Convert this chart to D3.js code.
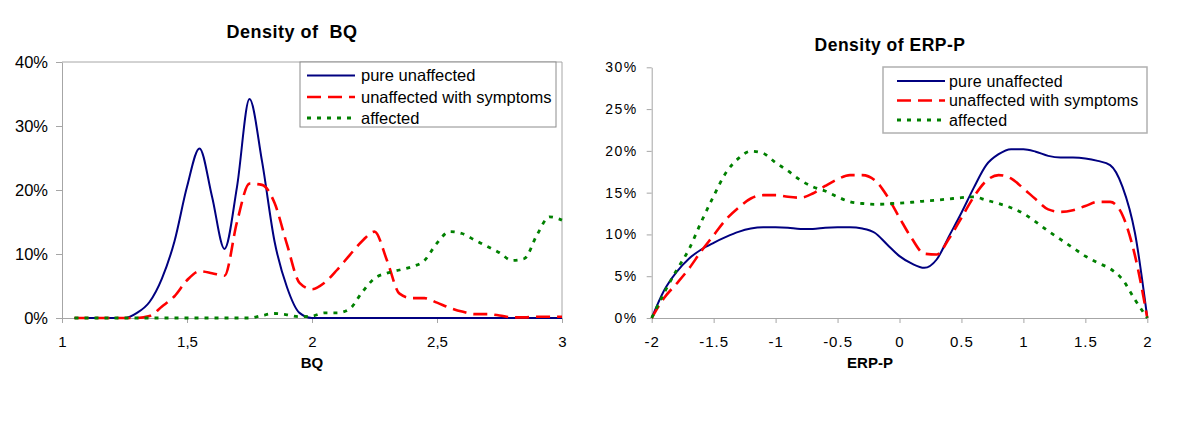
<!DOCTYPE html>
<html>
<head>
<meta charset="utf-8">
<script src="https://cdn.jsdelivr.net/npm/d3@7"></script>
<style>
  html, body { margin: 0; padding: 0; background: #fff; }
  svg { display: block; font-family: Arial, "Liberation Sans", sans-serif; }
</style>
</head>
<body>
<svg id="chart" width="1200" height="447"></svg>
<script>
// ---------------- DATA ----------------
const seriesNames = ["pure unaffected", "unaffected with symptoms", "affected"];

// Density of BQ
const bqX = [1.05,1.10,1.15,1.20,1.25,1.30,1.35,1.40,1.45,1.50,1.55,1.60,1.65,1.70,1.75,1.80,1.85,1.90,1.95,2.00,
             2.05,2.10,2.15,2.20,2.25,2.30,2.35,2.40,2.45,2.50,2.55,2.60,2.65,2.70,2.75,2.80,2.85,2.90,2.95,3.00];
const bqPure = [0,0,0,0,0,0.8,2.5,6.2,12,20.5,26.5,19,10.8,20.5,34.2,24.5,12,4.8,0.8,0,
                0,0,0,0,0,0,0,0,0,0,0,0,0,0,0,0,0,0,0,0];
const bqSymptoms = [0,0,0,0,0,0,0.3,1.8,3.4,5.9,7.3,7.0,6.6,15,21,20.8,18,11.5,5.5,4.5,
                    5.5,7.5,9.8,12,13.5,9,3.8,3.1,3.1,2.4,1.6,1.0,0.6,0.6,0.4,0.1,0.1,0.2,0.2,0.2];
const bqAffected = [0,0,0,0,0,0,0,0,0,0,0,0,0,0,0,0.4,0.7,0.5,0.2,0.3,
                    0.8,0.8,1.4,4.0,6.2,7.0,7.5,8.0,9.0,11.7,13.5,13.2,12.2,11.2,10.2,9.0,9.3,13,15.8,15.3];
const bqXTicks = [1, 1.5, 2, 2.5, 3];
const bqXTickLabels = ["1", "1,5", "2", "2,5", "3"];
const bqYTicks = [0, 10, 20, 30, 40];

// Density of ERP-P
const erpX = [-2.0,-1.9,-1.8,-1.7,-1.6,-1.5,-1.4,-1.3,-1.2,-1.1,-1.0,-0.9,-0.8,-0.7,-0.6,-0.5,-0.4,-0.3,-0.2,-0.1,
              0.0,0.1,0.2,0.3,0.4,0.5,0.6,0.7,0.8,0.9,1.0,1.1,1.2,1.3,1.4,1.5,1.6,1.7,1.8,1.9,2.0];
const erpPure = [0,3.3,5.5,7.1,8.2,9.0,9.7,10.3,10.7,10.85,10.85,10.8,10.65,10.65,10.8,10.85,10.85,10.7,10.2,8.8,
                 7.4,6.5,6.0,7.0,9.8,12.6,15.6,18.3,19.6,20.2,20.2,19.9,19.4,19.2,19.2,19.1,18.8,18.3,15.7,10.2,0];
const erpSymptoms = [0,2.4,4.1,5.9,8.0,9.9,11.8,13.2,14.3,14.7,14.7,14.5,14.4,14.9,15.8,16.6,17.1,17.1,16.5,14.6,
                     12.0,9.5,7.7,7.6,9.5,12.0,14.5,16.4,17.1,16.7,15.5,14.2,13.0,12.7,12.9,13.4,13.9,13.9,12.3,7.5,0];
const erpAffected = [0,3.0,5.7,8.2,11.5,14.6,17.4,19.1,19.95,19.7,18.6,17.6,16.5,15.7,15.2,14.5,13.9,13.7,13.6,13.65,
                     13.75,13.85,14.0,14.1,14.25,14.4,14.5,14.1,13.7,13.2,12.5,11.5,10.4,9.4,8.4,7.4,6.6,5.9,4.6,2.2,0];
const erpXTicks = [-2, -1.5, -1, -0.5, 0, 0.5, 1, 1.5, 2];
const erpXTickLabels = ["-2", "-1.5", "-1", "-0.5", "0", "0.5", "1", "1.5", "2"];
const erpYTicks = [0, 5, 10, 15, 20, 25, 30];

// ---------------- STYLE ----------------
const lineStyles = [
  { color: "#000080", width: 2,   dash: null },
  { color: "#ff0000", width: 2.6, dash: "14,7" },
  { color: "#008000", width: 2.8, dash: "4,6" }
];
const axisColor = "#a6a6a6";

const svg = d3.select("#chart");
svg.append("rect").attr("width", 1200).attr("height", 447).attr("fill", "#fff");

function drawChart(cfg) {
  const g = svg.append("g");
  const x = d3.scaleLinear().domain(cfg.xDomain).range(cfg.xRange);
  const y = d3.scaleLinear().domain(cfg.yDomain).range(cfg.yRange);

  if (cfg.border) {
    g.append("path")
      .attr("d", `M${x.range()[0]},${y.range()[1]}H${x.range()[1]}V${y.range()[0]}`)
      .attr("fill", "none").attr("stroke", axisColor).attr("stroke-width", 1);
  }

  const ya = g.append("g").attr("transform", `translate(${x.range()[0]},0)`)
    .call(d3.axisLeft(y).tickValues(cfg.yTicks).tickSize(cfg.yTickSize).tickSizeOuter(0)
      .tickPadding(cfg.yPad).tickFormat(cfg.yFormat));
  ya.attr("font-family", null).attr("font-size", null);
  ya.select(".domain").attr("stroke", axisColor);
  ya.selectAll(".tick line").attr("stroke", axisColor);
  ya.selectAll(".tick text").attr("fill", "#000").style("font-size", cfg.yFont + "px")
    .style("letter-spacing", cfg.yLetter + "px");

  const xa = g.append("g").attr("transform", `translate(0,${y.range()[0]})`)
    .call(d3.axisBottom(x).tickValues(cfg.xTicks).tickSize(5).tickSizeOuter(0)
      .tickPadding(13).tickFormat((d, i) => cfg.xTickLabels[i]));
  xa.attr("font-family", null).attr("font-size", null);
  xa.select(".domain").attr("stroke", axisColor);
  xa.selectAll(".tick line").attr("stroke", axisColor);
  xa.selectAll(".tick text").attr("fill", "#000").style("font-size", cfg.xFont + "px")
    .style("letter-spacing", cfg.xLetter + "px");

  const line = d3.line().x(d => x(d[0])).y(d => y(d[1])).curve(d3.curveMonotoneX);
  cfg.series.forEach((vals, i) => {
    const st = lineStyles[i];
    g.append("path")
      .datum(cfg.xs.map((v, k) => [v, vals[k]]))
      .attr("d", line)
      .attr("fill", "none")
      .attr("stroke", st.color)
      .attr("stroke-width", st.width)
      .attr("stroke-dasharray", st.dash)
      .attr("stroke-linejoin", "round");
  });

  g.append("text").attr("x", cfg.titleX).attr("y", cfg.titleY)
    .attr("text-anchor", "middle").style("font-weight", "bold")
    .style("font-size", cfg.titleFont + "px").style("letter-spacing", "0.5px")
    .style("white-space", "pre").text(cfg.title);

  g.append("text").attr("x", cfg.xLabelX).attr("y", 368)
    .attr("text-anchor", "middle").style("font-weight", "bold")
    .style("font-size", "15px").text(cfg.xLabel);

  const L = cfg.legend;
  g.append("rect").attr("x", L.x).attr("y", L.y).attr("width", L.w).attr("height", L.h)
    .attr("fill", "#fff").attr("stroke", L.stroke).attr("stroke-width", L.sw);
  seriesNames.forEach((name, i) => {
    const st = lineStyles[i];
    const yy = L.rows[i];
    g.append("line").attr("x1", L.lx1).attr("x2", L.lx2).attr("y1", yy).attr("y2", yy)
      .attr("stroke", st.color).attr("stroke-width", st.width).attr("stroke-dasharray", st.dash);
    g.append("text").attr("x", L.tx).attr("y", yy).attr("dy", "0.35em")
      .style("font-size", L.font + "px").style("letter-spacing", L.letter + "px").text(name);
  });
}

drawChart({
  xDomain: [1, 3], xRange: [62, 562],
  yDomain: [0, 40], yRange: [318, 62],
  border: true,
  yTicks: bqYTicks, yTickSize: 6, yPad: 8, yFormat: d => d + "%", yFont: 16.5, yLetter: 0,
  xTicks: bqXTicks, xTickLabels: bqXTickLabels, xFont: 15, xLetter: 0,
  xs: bqX, series: [bqPure, bqSymptoms, bqAffected],
  title: "Density of  BQ", titleX: 292, titleY: 38, titleFont: 18,
  xLabel: "BQ", xLabelX: 312,
  legend: { x: 300, y: 62, w: 256, h: 65, stroke: "#8c8c8c", sw: 1,
            rows: [75.5, 97, 118], lx1: 307, lx2: 355, tx: 361, font: 16.5, letter: 0 }
});

drawChart({
  xDomain: [-2, 2], xRange: [651.7, 1147.3],
  yDomain: [0, 30], yRange: [318, 67.3],
  border: false,
  yTicks: erpYTicks, yTickSize: 5, yPad: 9, yFormat: d => d + "%", yFont: 14, yLetter: 1.5,
  xTicks: erpXTicks, xTickLabels: erpXTickLabels, xFont: 15, xLetter: 1,
  xs: erpX, series: [erpPure, erpSymptoms, erpAffected],
  title: "Density of ERP-P", titleX: 890, titleY: 51, titleFont: 17.5,
  xLabel: "ERP-P", xLabelX: 870,
  legend: { x: 883, y: 67, w: 264, h: 66, stroke: "#b0b0b0", sw: 1.5,
            rows: [81, 100.5, 120], lx1: 897, lx2: 945, tx: 949, font: 16, letter: 0.2 }
});
</script>
</body>
</html>
